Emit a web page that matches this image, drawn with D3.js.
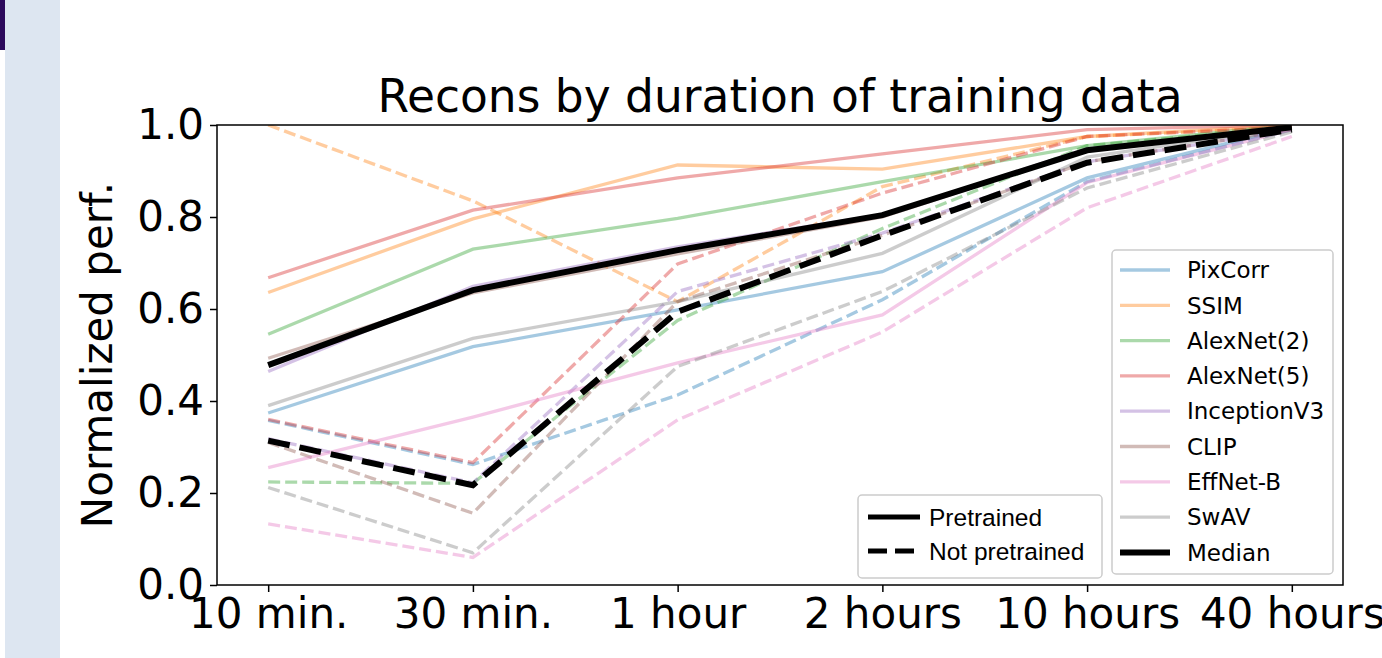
<!DOCTYPE html>
<html lang="en">
<head>
    <meta charset="UTF-8">
    <title>Recons by duration of training data</title>
    <style>
        body {
            margin: 0;
            background-color: white;
        }

        svg {
            display: block;
            font-family: "DejaVu Sans", sans-serif;
        }

        .axis text {
            font-size: 42px;
            fill: black;
        }

        .axis path,
        .axis line {
            stroke: black;
            stroke-width: 1.5px;
        }

        .legend-box {
            fill: white;
            fill-opacity: 0.8;
            stroke: #cccccc;
            stroke-width: 1.5px;
        }
    </style>
    <script src="https://d3js.org/d3.v7.min.js"></script>
</head>
<body>

<script>
    // categories on the x axis
    const durations = ["10 min.", "30 min.", "1 hour", "2 hours", "10 hours", "40 hours"];

    const metrics = ["PixCorr", "SSIM", "AlexNet(2)", "AlexNet(5)", "InceptionV3", "CLIP", "EffNet-B", "SwAV"];

    // pretrained (solid) and not pretrained (dashed) values
    const pixcorrPre      = [0.374, 0.518, 0.598, 0.681, 0.885, 0.995];
    const pixcorrScratch  = [0.358, 0.262, 0.413, 0.620, 0.877, 0.990];
    const ssimPre         = [0.636, 0.796, 0.913, 0.904, 0.975, 1.000];
    const ssimScratch     = [1.000, 0.835, 0.616, 0.866, 0.975, 0.995];
    const alex2Pre        = [0.545, 0.730, 0.797, 0.877, 0.955, 1.000];
    const alex2Scratch    = [0.224, 0.221, 0.575, 0.775, 0.955, 0.995];
    const alex5Pre        = [0.668, 0.815, 0.885, 0.937, 0.990, 1.000];
    const alex5Scratch    = [0.360, 0.266, 0.698, 0.852, 0.975, 0.995];
    const inceptionPre    = [0.464, 0.649, 0.735, 0.805, 0.948, 0.995];
    const inceptionScratch= [0.318, 0.222, 0.638, 0.765, 0.920, 0.990];
    const clipPre         = [0.493, 0.635, 0.720, 0.800, 0.945, 0.995];
    const clipScratch     = [0.310, 0.156, 0.616, 0.760, 0.920, 0.990];
    const effnetPre       = [0.255, 0.365, 0.483, 0.587, 0.875, 0.990];
    const effnetScratch   = [0.133, 0.060, 0.359, 0.550, 0.820, 0.975];
    const swavPre         = [0.390, 0.536, 0.616, 0.721, 0.930, 0.995];
    const swavScratch     = [0.212, 0.070, 0.475, 0.638, 0.863, 0.985];
    const medianPre       = [0.478, 0.641, 0.728, 0.804, 0.945, 0.995];
    const medianScratch   = [0.314, 0.217, 0.594, 0.760, 0.918, 0.990];

    const yTicks = [0.0, 0.2, 0.4, 0.6, 0.8, 1.0];

    const preSeries = [pixcorrPre, ssimPre, alex2Pre, alex5Pre, inceptionPre, clipPre, effnetPre, swavPre];
    const scratchSeries = [pixcorrScratch, ssimScratch, alex2Scratch, alex5Scratch, inceptionScratch, clipScratch, effnetScratch, swavScratch];

    const width = 1382;
    const height = 658;
    const margin = {top: 125, right: 39, bottom: 73, left: 217};
    const plotW = width - margin.left - margin.right;
    const plotH = height - margin.top - margin.bottom;

    const svg = d3.select("body")
                  .append("svg")
                  .attr("width", width)
                  .attr("height", height);

    // slide decoration on the left edge
    svg.append("rect").attr("x", 5).attr("y", 0).attr("width", 55).attr("height", height).attr("fill", "#dde6f1");
    svg.append("rect").attr("x", 0).attr("y", 0).attr("width", 5).attr("height", 50).attr("fill", "#2c0a5c");

    const g = svg.append("g").attr("transform", `translate(${margin.left},${margin.top})`);

    // matplotlib-style 5% margins on the categorical axis
    const x = d3.scaleLinear().domain([-0.25, durations.length - 0.75]).range([0, plotW]);
    const y = d3.scaleLinear().domain([0, 1]).range([plotH, 0]);

    g.append("clipPath").attr("id", "clip")
     .append("rect").attr("width", plotW).attr("height", plotH);

    const line = d3.line()
                   .x((d, i) => x(i))
                   .y(d => y(d));

    const color = d3.scaleOrdinal().domain(metrics).range(d3.schemeCategory10.slice(0, 8));

    const lines = g.append("g").attr("clip-path", "url(#clip)");

    metrics.forEach((m, k) => {
        lines.append("path")
             .attr("d", line(preSeries[k]))
             .attr("fill", "none")
             .attr("stroke", color(m))
             .attr("stroke-opacity", 0.4)
             .attr("stroke-width", 3.3);
        lines.append("path")
             .attr("d", line(scratchSeries[k]))
             .attr("fill", "none")
             .attr("stroke", color(m))
             .attr("stroke-opacity", 0.4)
             .attr("stroke-width", 3.3)
             .attr("stroke-dasharray", "12,5");
    });

    lines.append("path")
         .attr("d", line(medianPre))
         .attr("fill", "none")
         .attr("stroke", "black")
         .attr("stroke-width", 6);
    lines.append("path")
         .attr("d", line(medianScratch))
         .attr("fill", "none")
         .attr("stroke", "black")
         .attr("stroke-width", 6)
         .attr("stroke-dasharray", "22,10");

    // frame
    g.append("rect")
     .attr("width", plotW)
     .attr("height", plotH)
     .attr("fill", "none")
     .attr("stroke", "black")
     .attr("stroke-width", 1.5);

    g.append("g")
     .attr("class", "axis")
     .attr("transform", `translate(0,${plotH})`)
     .call(d3.axisBottom(x)
             .tickValues(d3.range(durations.length))
             .tickFormat(i => durations[i])
             .tickSize(7)
             .tickSizeOuter(0)
             .tickPadding(6))
     .call(a => a.select(".domain").remove())
     .selectAll("text")
     .attr("font-family", "DejaVu Sans");

    g.append("g")
     .attr("class", "axis")
     .call(d3.axisLeft(y)
             .tickValues(yTicks)
             .tickFormat(d3.format(".1f"))
             .tickSize(7)
             .tickSizeOuter(0)
             .tickPadding(6))
     .call(a => a.select(".domain").remove())
     .selectAll("text")
     .attr("font-family", "DejaVu Sans");

    svg.append("text")
       .attr("x", margin.left + plotW / 2)
       .attr("y", 112)
       .attr("text-anchor", "middle")
       .attr("font-size", 45.5)
       .text("Recons by duration of training data");

    svg.append("text")
       .attr("transform", `translate(112,${margin.top + plotH / 2}) rotate(-90)`)
       .attr("text-anchor", "middle")
       .attr("font-size", 42)
       .text("Normalized perf.");

    // metric legend
    const leg = svg.append("g").attr("transform", "translate(1112,250)");
    leg.append("rect")
       .attr("class", "legend-box")
       .attr("width", 221)
       .attr("height", 324)
       .attr("rx", 4);

    const legendItems = metrics.map(m => ({name: m, stroke: color(m), opacity: 0.4, w: 3.3}))
                               .concat([{name: "Median", stroke: "black", opacity: 1, w: 6}]);

    legendItems.forEach((d, i) => {
        const yy = 20 + i * 35.3;
        leg.append("line")
           .attr("x1", 8).attr("x2", 58)
           .attr("y1", yy).attr("y2", yy)
           .attr("stroke", d.stroke)
           .attr("stroke-opacity", d.opacity)
           .attr("stroke-width", d.w);
        leg.append("text")
           .attr("x", 75)
           .attr("y", yy)
           .attr("dy", "0.36em")
           .attr("font-size", 23)
           .text(d.name);
    });

    // line style legend
    const leg2 = svg.append("g").attr("transform", "translate(858,495)");
    leg2.append("rect")
        .attr("class", "legend-box")
        .attr("width", 244)
        .attr("height", 83)
        .attr("rx", 4);

    [{name: "Pretrained", dash: null}, {name: "Not pretrained", dash: "19,8"}].forEach((d, i) => {
        const yy = 22 + i * 34;
        leg2.append("line")
            .attr("x1", 10).attr("x2", 62)
            .attr("y1", yy).attr("y2", yy)
            .attr("stroke", "black")
            .attr("stroke-width", 5)
            .attr("stroke-dasharray", d.dash);
        leg2.append("text")
            .attr("x", 71)
            .attr("y", yy)
            .attr("dy", "0.36em")
            .attr("font-family", "Liberation Sans, Arial, sans-serif")
            .attr("font-size", 24.5)
            .text(d.name);
    });
</script>

</body>
</html>
